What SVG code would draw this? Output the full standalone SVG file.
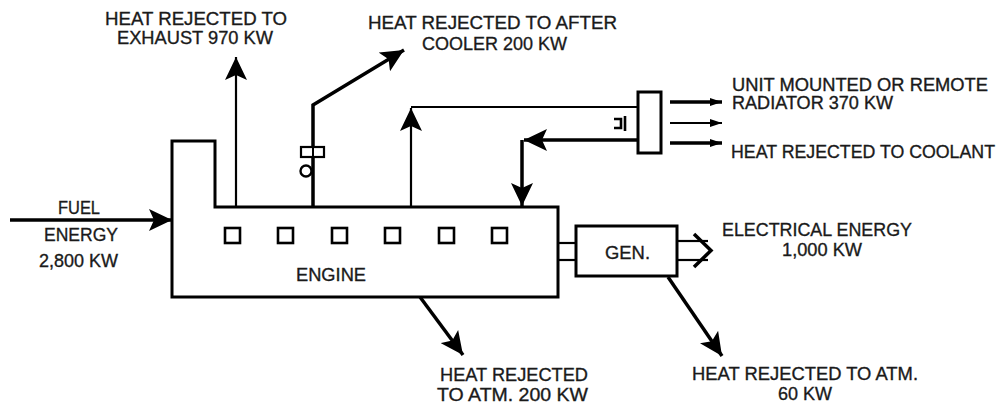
<svg xmlns="http://www.w3.org/2000/svg" width="1007" height="408" viewBox="0 0 1007 408">
<style>
text{font-family:"Liberation Sans",Arial,sans-serif;font-size:19px;fill:#1a1a1a;stroke:#1a1a1a;stroke-width:0.35}
.tight{font-size:17.5px}
.box{fill:#fff;stroke:#000;stroke-width:3}
.ln{fill:none;stroke:#000;stroke-width:2.2}
.thk{fill:none;stroke:#000;stroke-width:3.5}
.sq{fill:#fff;stroke:#000;stroke-width:2.6}
.ah{fill:#000}
</style>
<defs>
<marker id="big" markerUnits="userSpaceOnUse" markerWidth="24" markerHeight="22" refX="23" refY="11" orient="auto"><path d="M0,0 L23,11 L0,22 L5,11 z" class="ah"/></marker>
<marker id="sm" markerUnits="userSpaceOnUse" markerWidth="12" markerHeight="8" refX="12" refY="4" orient="auto"><path d="M0,0 L12,4 L0,8 z" class="ah"/></marker>
</defs>
<g id="connectors">
<line class="thk" x1="10" y1="220" x2="172" y2="220" marker-end="url(#big)"/>
<line class="ln" x1="236" y1="207" x2="236" y2="57" marker-end="url(#big)"/>
<polyline class="thk" points="313,207 313,105 404,50" marker-end="url(#big)"/>
<line class="ln" x1="411" y1="207" x2="411" y2="108" marker-end="url(#big)"/>
<line class="ln" x1="411" y1="107" x2="638" y2="107"/>
<line class="thk" x1="638" y1="140" x2="524" y2="140" marker-end="url(#big)"/>
<line class="thk" x1="522" y1="140" x2="522" y2="206" marker-end="url(#big)"/>
<line class="thk" x1="420" y1="297" x2="463" y2="355" marker-end="url(#big)"/>
<line class="thk" x1="668" y1="277" x2="722" y2="356" marker-end="url(#big)"/>
<line class="thk" x1="670" y1="102" x2="722" y2="102" marker-end="url(#sm)"/>
<line class="ln" x1="670" y1="123" x2="722" y2="123" marker-end="url(#sm)"/>
<line class="thk" x1="670" y1="143" x2="722" y2="143" marker-end="url(#sm)"/>
<line class="ln" x1="558" y1="243" x2="576" y2="243"/>
<line class="ln" x1="558" y1="260" x2="576" y2="260"/>
<line class="ln" x1="677" y1="241" x2="708" y2="241"/>
<line class="ln" x1="677" y1="260" x2="708" y2="260"/>
<polyline class="thk" points="694,234 711,250.5 694,267"/>
</g>
<g id="engine">
<path class="box" d="M172,297 L172,141 L215,141 L215,207 L558,207 L558,297 Z"/>
<rect class="sq" x="225" y="228" width="15" height="15"/>
<rect class="sq" x="278" y="228" width="15" height="15"/>
<rect class="sq" x="332" y="228" width="15" height="15"/>
<rect class="sq" x="385" y="228" width="15" height="15"/>
<rect class="sq" x="439" y="228" width="15" height="15"/>
<rect class="sq" x="492" y="228" width="15" height="15"/>
<text x="296" y="281" textLength="70" lengthAdjust="spacingAndGlyphs">ENGINE</text>
</g>
<g id="aftercooler-symbol">
<rect x="301" y="147" width="23" height="10" fill="#fff" stroke="#000" stroke-width="2.2"/>
<line x1="313" y1="147" x2="313" y2="157" stroke="#000" stroke-width="2"/>
<circle cx="306" cy="171" r="5.5" fill="#fff" stroke="#000" stroke-width="2.4"/>
</g>
<g id="radiator">
<rect class="box" x="638" y="92" width="23" height="61"/>
<path d="M614,119 L621,119 L621,128 L614,128" fill="none" stroke="#000" stroke-width="2.6"/>
<line x1="625" y1="116" x2="625" y2="131" stroke="#000" stroke-width="2.6"/>
</g>
<g id="generator">
<rect class="box" x="576" y="226" width="101" height="50"/>
<text x="605" y="259" textLength="45" lengthAdjust="spacingAndGlyphs">GEN.</text>
</g>
<g id="labels">
<text x="105" y="25" textLength="182" lengthAdjust="spacingAndGlyphs">HEAT REJECTED TO</text>
<text x="117" y="44" textLength="156" lengthAdjust="spacingAndGlyphs">EXHAUST 970 KW</text>
<text x="368" y="29" textLength="249" lengthAdjust="spacingAndGlyphs">HEAT REJECTED TO AFTER</text>
<text x="422" y="50" textLength="145" lengthAdjust="spacingAndGlyphs">COOLER 200 KW</text>
<text class="tight" x="732" y="91" textLength="256" lengthAdjust="spacingAndGlyphs">UNIT MOUNTED OR REMOTE</text>
<text class="tight" x="732" y="109" textLength="161" lengthAdjust="spacingAndGlyphs">RADIATOR 370 KW</text>
<text x="731" y="158" font-size="18" style="font-size:18px" textLength="264" lengthAdjust="spacingAndGlyphs">HEAT REJECTED TO COOLANT</text>
<text x="722" y="236" textLength="190" lengthAdjust="spacingAndGlyphs">ELECTRICAL ENERGY</text>
<text x="782" y="256" textLength="80" lengthAdjust="spacingAndGlyphs">1,000 KW</text>
<text x="692" y="380" textLength="226" lengthAdjust="spacingAndGlyphs">HEAT REJECTED TO ATM.</text>
<text x="778" y="400" textLength="54" lengthAdjust="spacingAndGlyphs">60 KW</text>
<text x="440" y="381" textLength="148" lengthAdjust="spacingAndGlyphs">HEAT REJECTED</text>
<text x="437" y="401" textLength="151" lengthAdjust="spacingAndGlyphs">TO ATM. 200 KW</text>
<text x="58" y="214" textLength="42" lengthAdjust="spacingAndGlyphs">FUEL</text>
<text x="44" y="241" textLength="74" lengthAdjust="spacingAndGlyphs">ENERGY</text>
<text x="39" y="267" textLength="79" lengthAdjust="spacingAndGlyphs">2,800 KW</text>
</g>
</svg>
